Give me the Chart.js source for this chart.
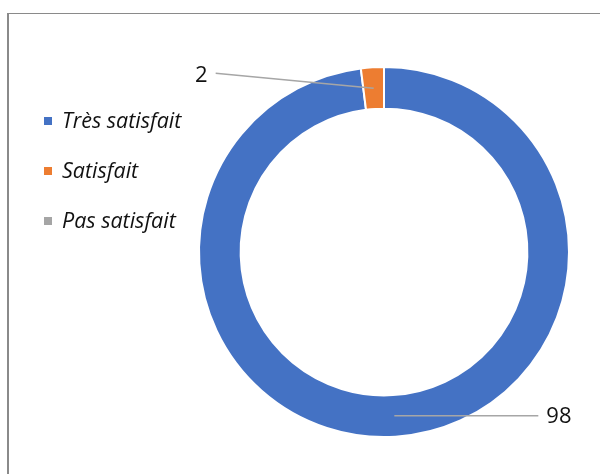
<!DOCTYPE html>
<html lang="fr">
<head>
  <meta charset="UTF-8">
  <title>Satisfaction</title>
  <script src="https://cdn.jsdelivr.net/npm/chart.js"></script>
  <style>
    body {
      margin: 0;
      padding: 0;
      background: #fff;
      font-family: "Open Sans", sans-serif;
    }
    .wrap {
      position: relative;
      width: 600px;
      height: 474px;
      overflow: hidden;
    }
    .frame {
      position: absolute;
      left: 7px;
      top: 13px;
      width: 640px;
      height: 520px;
      border: 1px solid #8a8a8a;
      border-left-width: 2px;
      box-sizing: border-box;
    }
    canvas {
      position: absolute;
      left: 0;
      top: 0;
    }
    #legend {
      position: absolute;
      left: 44px;
      top: 105px;
    }
    .item {
      height: 50px;
      display: flex;
      align-items: flex-start;
      font-style: italic;
      font-size: 21.5px;
      color: #111;
      line-height: 30px;
    }
    .box {
      width: 8px;
      height: 8px;
      margin-top: 12px;
      margin-right: 10px;
    }
  </style>
</head>
<body>
  <div class="wrap">
    <div class="frame"></div>
    <canvas id="graph" width="600" height="474"></canvas>
    <div id="legend"></div>
  </div>

  <script>
    var categories = ['Très satisfait', 'Satisfait', 'Pas satisfait'];
    var values = [98, 2, 0];
    var colors = ['#4472C4', '#ED7D31', '#A5A5A5'];

    // legende a gauche
    var legend = document.getElementById('legend');
    categories.forEach(function(name, i) {
      var row = document.createElement('div');
      row.className = 'item';
      var box = document.createElement('span');
      box.className = 'box';
      box.style.background = colors[i];
      var txt = document.createElement('span');
      txt.textContent = name;
      row.appendChild(box);
      row.appendChild(txt);
      legend.appendChild(row);
    });

    // etiquettes avec lignes de rappel
    var leaderLabels = {
      id: 'leaderLabels',
      afterDatasetsDraw: function(chart) {
        var ctx = chart.ctx;
        var meta = chart.getDatasetMeta(0);
        meta.data.forEach(function(arc, i) {
          var v = values[i];
          if (!v) return;
          var p = arc.getProps(['x', 'y', 'startAngle', 'endAngle', 'innerRadius', 'outerRadius'], true);
          var mid = (p.startAngle + p.endAngle) / 2;
          var r = (p.innerRadius + p.outerRadius) / 2;
          var ax = p.x + Math.cos(mid) * r;
          var ay = p.y + Math.sin(mid) * r;
          var left = Math.cos(mid) < 0;
          var ex, ey, tx, ty;
          if (left) {
            ex = ax - 158; ey = ay - 15; tx = ex - 8; ty = ey + 3;
          } else {
            ex = ax + 144; ey = ay; tx = ex + 8; ty = ey + 1;
          }
          ctx.save();
          ctx.strokeStyle = '#A6A6A6';
          ctx.lineWidth = 1.5;
          ctx.beginPath();
          ctx.moveTo(ax, ay);
          ctx.lineTo(ex, ey);
          ctx.stroke();
          ctx.fillStyle = '#111';
          ctx.font = '22px "Open Sans", sans-serif';
          ctx.textBaseline = 'middle';
          ctx.textAlign = left ? 'right' : 'left';
          ctx.fillText(String(v), tx, ty);
          ctx.restore();
        });
      }
    };

    var ctx = document.getElementById('graph').getContext('2d');
    var chart = new Chart(ctx, {
      type: 'doughnut',
      data: {
        labels: categories,
        datasets: [{
          data: values,
          backgroundColor: colors,
          borderColor: '#fff',
          borderWidth: 2
        }]
      },
      options: {
        responsive: false,
        animation: false,
        cutout: '77.5%',
        layout: {
          padding: { left: 198, right: 30, top: 65, bottom: 35 }
        },
        plugins: {
          legend: { display: false },
          tooltip: { enabled: false }
        }
      },
      plugins: [leaderLabels]
    });
  </script>
</body>
</html>
